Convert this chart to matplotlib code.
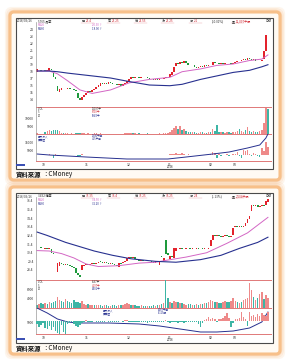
import numpy as np
import matplotlib
matplotlib.use('Agg')
import matplotlib.pyplot as plt
from matplotlib.patches import FancyBboxPatch, Rectangle

plt.rcParams['font.family'] = ['Noto Sans CJK TC', 'DejaVu Sans']

# ---------------- data: upper chart ----------------
top_open = [
    17.9, 18.2, 18.1, 18.0, 18.05, 18.0, 18.0, 18.3, 17.7, 17.2,
    15.9, 15.0, 15.3, 15.5, 15.4, 15.5, 15.6, 15.4, 15.5, 15.3,
    14.9, 14.2, 13.8, 14.3, 14.6, 14.8, 15.1, 15.0, 15.3, 15.5,
    15.7, 15.9, 16.3, 16.2, 16.3, 16.2, 16.4, 16.3, 16.2, 16.1,
    16.0, 16.1, 15.9, 16.1, 16.3, 16.6, 16.9, 17.1, 17.0, 17.1,
    17.2, 17.0, 17.1, 17.2, 17.1, 17.0, 16.9, 16.8, 16.7, 16.8,
    16.7, 16.8, 16.9, 17.0, 17.1, 17.2, 17.5, 17.9, 18.7, 19.2,
    19.0, 19.3, 19.2, 19.4, 19.1, 18.9, 18.8, 18.9, 18.6, 18.5,
    18.6, 18.7, 18.6, 18.8, 18.7, 18.9, 18.8, 19.3, 19.2, 19.1,
    19.0, 19.1, 19.0, 19.1, 19.2, 19.1, 19.0, 19.2, 19.3, 19.5,
    19.4, 19.6, 19.7, 19.6, 19.8, 19.7, 19.6, 19.7, 19.5, 19.4,
    19.4, 19.7, 20.9, 24.2]
top_close = [
    18.3, 18.1, 18.0, 18.05, 18.0, 18.2, 18.4, 18.1, 17.1, 16.8,
    15.1, 15.4, 15.6, 15.4, 15.5, 15.6, 15.4, 15.5, 15.3, 15.2,
    14.2, 13.8, 14.3, 14.6, 14.8, 15.1, 15.0, 15.3, 15.5, 15.7,
    16.0, 16.3, 16.2, 16.3, 16.2, 16.4, 16.3, 16.2, 16.1, 16.0,
    16.1, 15.9, 16.1, 16.3, 16.6, 16.9, 17.1, 17.0, 17.1, 17.2,
    17.0, 17.1, 17.2, 17.1, 17.0, 16.9, 16.8, 16.7, 16.8, 16.7,
    16.8, 16.9, 17.0, 17.1, 17.2, 17.6, 17.9, 18.6, 19.2, 19.0,
    19.3, 19.2, 19.4, 19.1, 18.9, 18.8, 18.9, 18.6, 18.5, 18.6,
    18.7, 18.6, 18.8, 18.7, 18.9, 18.8, 19.3, 19.2, 19.1, 19.0,
    19.1, 19.0, 19.1, 19.2, 19.1, 19.0, 19.2, 19.3, 19.5, 19.4,
    19.6, 19.7, 19.6, 19.8, 19.7, 19.6, 19.7, 19.5, 19.4, 19.4,
    19.6, 20.8, 23.2, 24.1]
top_vol = [
    400, 300, 300, 250, 1500, 1800, 2200, 1600, 2200, 2500,
    2600, 1800, 800, 500, 600, 400, 300, 350, 300, 400,
    700, 900, 600, 500, 300, 350, 250, 300, 400, 350,
    300, 400, 250, 300, 200, 300, 250, 200, 300, 250,
    300, 250, 300, 350, 400, 600, 500, 400, 350, 300,
    350, 300, 250, 300, 350, 300, 250, 300, 250, 300,
    350, 300, 400, 350, 500, 1500, 2500, 3500, 5000, 3000,
    4700, 2500, 3000, 2000, 1500, 1200, 1000, 1500, 800, 900,
    1000, 1100, 900, 800, 1000, 1200, 3000, 2000, 5500, 1500,
    1200, 1000, 900, 1100, 1000, 800, 1200, 1500, 2000, 3100,
    1800, 1500, 2200, 4400, 1800, 1500, 1600, 1200, 1400, 2000,
    2500, 6800, 16300, 15800]
top_inst = [
    300, -200, 200, -300, 400, -500, 800, -400, -4000, 1500,
    -800, 500, 300, -300, 200, -200, 300, -400, 200, -300,
    -1500, -1000, 800, 600, -300, 200, -200, 300, -250, 200,
    -300, 250, -200, 300, -200, 250, -300, 200, -250, 300,
    -200, 250, -300, 200, 300, 400, -250, 300, -200, 250,
    -300, 200, -250, 300, -200, 250, -300, 200, -250, 300,
    -200, 250, 300, -200, 400, 800, 1200, 1500, 2000, 1000,
    800, 2500, 1200, -600, 800, -500, 600, -400, 500, 300,
    -500, 400, 600, -300, 500, 700, 3700, 3000, -3700, 1000,
    -800, 600, -500, 900, -700, 500, 800, 1200, 3700, -1000,
    -3700, 6000, 5000, 6000, 1500, -1000, 2000, 1000, -800, -3000,
    8700, 5000, 16000, 10000]
top_ma_idx = [0, 6, 10, 15, 21, 27, 36, 45, 55, 65, 71, 80, 88, 96, 104, 110, 113]
top_ma20 = [18.0, 18.0, 17.6, 16.6, 15.3, 14.8, 15.3, 16.3, 16.8, 17.1,
            17.9, 18.3, 18.8, 19.0, 19.5, 19.7, 20.3]
top_ma60 = [18.0, 18.0, 17.9, 17.7, 17.5, 17.3, 17.0, 16.5, 16.0, 15.9,
            16.1, 16.8, 17.3, 17.8, 18.1, 18.6, 18.9]
top_cum_idx = [0, 6, 24, 44, 64, 73, 86, 94, 103, 109, 112, 113]
top_cum = [1250, 0, -2500, -5000, -5000, -2500, 1250, 3750, 8750, 12500, 21250, 26250]

# ---------------- data: lower chart ----------------
bot_open = [
    31.0, 30.9, 30.95, 30.9, 30.85, 30.9, 30.8, 30.8, 30.4, 30.3,
    28.2, 28.9, 29.2, 29.1, 29.0, 29.1, 29.0, 28.9, 28.8, 28.6,
    28.1, 27.8, 28.4, 28.9, 29.0, 29.1, 29.0, 29.1, 29.2, 29.1,
    29.2, 29.4, 29.3, 29.2, 29.3, 29.2, 29.1, 29.2, 29.1, 29.0,
    28.8, 29.2, 29.2, 29.3, 29.4, 29.8, 29.9, 29.8, 29.9, 29.7,
    29.6, 29.4, 29.6, 29.5, 29.4, 29.5, 29.4, 29.3, 29.2, 29.4,
    29.0, 30.0, 29.4, 31.9, 30.4, 29.7, 30.0, 29.8, 30.6, 30.9,
    30.85, 30.9, 30.8, 30.85, 30.9, 30.85, 30.8, 30.9, 30.85, 30.9,
    30.8, 30.85, 30.8, 30.9, 30.85, 31.2, 31.9, 32.5, 32.3, 32.4,
    32.3, 32.2, 32.3, 32.4, 32.3, 32.2, 32.5, 33.4, 33.5, 33.4,
    33.5, 33.4, 33.5, 33.85, 34.3, 35.2, 35.9, 35.8, 35.9, 35.7,
    35.8, 35.9, 35.9, 36.3]
bot_close = [
    30.9, 30.95, 30.9, 30.85, 30.9, 30.8, 30.9, 30.4, 30.3, 30.2,
    29.2, 29.3, 29.1, 29.0, 29.1, 29.0, 28.9, 28.75, 28.6, 28.1,
    27.8, 27.6, 29.0, 29.0, 29.1, 29.0, 29.1, 29.2, 29.1, 29.2,
    29.3, 29.3, 29.2, 29.3, 29.2, 29.1, 29.2, 29.1, 29.0, 28.9,
    29.2, 29.1, 29.3, 29.4, 29.8, 29.9, 29.8, 29.9, 29.7, 29.6,
    29.5, 29.6, 29.5, 29.4, 29.5, 29.4, 29.3, 29.2, 29.4, 29.3,
    29.4, 29.9, 29.8, 30.3, 30.1, 30.0, 29.9, 30.9, 30.95, 30.85,
    30.9, 30.8, 30.85, 30.9, 30.85, 30.8, 30.9, 30.85, 30.9, 30.8,
    30.85, 30.8, 30.9, 30.85, 30.9, 31.9, 32.5, 32.3, 32.4, 32.3,
    32.2, 32.3, 32.4, 32.3, 32.2, 32.3, 33.3, 33.5, 33.4, 33.5,
    33.4, 33.5, 33.85, 34.3, 34.7, 35.9, 35.8, 35.9, 35.7, 35.8,
    35.9, 35.8, 36.4, 36.6]
bot_vol = [
    1500, 1800, 2000, 1600, 2200, 1800, 2500, 2000, 2800, 3000,
    4900, 3500, 3000, 2500, 3800, 3000, 2600, 2200, 3500, 2800,
    2500, 2000, 3000, 1800, 1500, 1600, 1400, 1200, 1500, 1300,
    1200, 1400, 1100, 1300, 1200, 1000, 1100, 1300, 1200, 1000,
    1500, 1200, 1400, 1800, 2200, 1600, 1400, 1300, 1200, 1100,
    1000, 1200, 1100, 1000, 900, 1000, 1100, 1200, 1000, 1300,
    1500, 1800, 2000, 12300, 4500, 2500, 2000, 3000, 2800, 2500,
    2200, 2000, 1800, 1500, 1700, 1600, 1500, 1400, 1600, 1500,
    1600, 1800, 2000, 2200, 2500, 3500, 3000, 2500, 2800, 2200,
    2000, 2500, 3000, 2800, 2600, 3200, 4500, 3000, 2500, 2200,
    2800, 3500, 4000, 4500, 11000, 8000, 4900, 3500, 4500, 6000,
    7100, 4200, 5800, 4500]
bot_inst = [
    -1500, -3000, -2000, -1000, -3500, -4000, -2500, -4500, -3000, -5000,
    -6000, -6500, -2000, -5500, -6500, -1500, -1000, -500, -1500, -2500,
    -3000, -2000, -800, -500, 300, -400, -600, -300, 200, -500,
    -400, -300, -600, -500, -200, -400, -300, -500, -600, -400,
    -300, -200, -400, 300, 500, -300, -400, -300, -500, -600,
    -400, -500, -700, -600, -800, -500, -600, -700, -500, -400,
    -300, -500, -400, 500, -600, -800, -500, -700, -600, -900,
    -700, -600, -800, -700, -500, -600, -400, -300, -500, -1500,
    -3000, -1000, 500, 800, 2000, 1000, 1500, 1200, -500, 800,
    1000, 1500, 2500, 4000, 1500, -3000, -1000, 800, 1200, 1500,
    4500, 2000, 1000, -2500, 4500, 2500, 3000, 2000, 3500, 2500,
    4000, 3000, 2500, 4500]
bot_ma20_idx = [0, 6, 12, 18, 24, 30, 40, 50, 58, 64, 73, 83, 93, 103, 113]
bot_ma20 = [30.65, 30.6, 30.3, 29.8, 29.1, 28.8, 28.9, 29.2, 29.3, 29.55,
            29.9, 30.4, 31.5, 32.7, 34.5]
bot_ma60_idx = [0, 5, 14, 21, 28, 37, 46, 58, 68, 80, 90, 99, 108, 113]
bot_ma60 = [32.8, 32.4, 31.6, 31.1, 30.6, 30.1, 29.7, 29.4, 29.3, 29.6,
            30.1, 30.9, 31.6, 32.2]
bot_cum_idx = [0, 5, 10, 15, 20, 35, 50, 60, 70, 80, 88, 96, 104, 110, 113]
bot_cum = [19000, 14000, 8000, 5000, 4000, 4000, 3000, 1000, -2000, -5000,
           -5000, -4000, -1000, 5000, 15000]

month_pos = [3, 24, 45, 65, 85, 97]
month_lab = ['10', '11', '12', '01', '02', '03']

top_head = [('2018/03/26', 17), ('5765 晶豪', 38), ('開', 82, '23.4'), ('高', 108, '23.25'),
            ('低', 135, '21.55'), ('收', 162, '23.25'), ('漲', 190, '2.1'),
            ('(10.01%)', 212), ('量', 232, '12,097千股'), ('日線', 265)]
bot_head = [('2018/03/26', 17), ('3432 精華', 38), ('開', 82, '35.35'), ('高', 108, '36.4'),
            ('低', 135, '35.25'), ('收', 162, '36.25'), ('漲', 190, '2.4'),
            ('(1.13%)', 212), ('量', 232, '2,504千股'), ('日線', 265)]

RED = '#e3222c'
GRN = '#1e9a3c'
PINK = '#d366c4'
NAVY = '#27308f'
VRED = '#ee8a8a'
VGRN = '#3db5a5'
SEP = '#e07878'

W, H = 289, 360
fig = plt.figure(figsize=(W / 100, H / 100), dpi=100)
bg = fig.add_axes([0, 0, 1, 1])
bg.set_xlim(0, W)
bg.set_ylim(H, 0)
bg.axis('off')


def orange_box(y0, y1):
    x0, x1 = 10, 280
    for pad, a in [(4, 0.12), (2.5, 0.22), (1.2, 0.35)]:
        bg.add_patch(FancyBboxPatch((x0 - pad, y0 - pad), x1 - x0 + 2 * pad, y1 - y0 + 2 * pad,
                                    boxstyle='round,pad=0,rounding_size=6', fc='none',
                                    ec='#f6ad6a', lw=1.6, alpha=a))
    bg.add_patch(FancyBboxPatch((x0, y0), x1 - x0, y1 - y0,
                                boxstyle='round,pad=0,rounding_size=4', fc='#fffaf3',
                                ec='#f7c08a', lw=2.2))


def tiny(ax_or_bg, x, y, s, color='#333333', size=2.2, **kw):
    bg.text(x, y, s, color=color, fontsize=size, va='center', ha='left', **kw)


def panel(y0, y1):
    ax = fig.add_axes([36 / W, 1 - y1 / H, 235 / W, (y1 - y0) / H])
    ax.set_facecolor('none')
    for s in ['top', 'right']:
        ax.spines[s].set_visible(False)
    ax.spines['left'].set_color('#9a9a9a')
    ax.spines['left'].set_linewidth(0.5)
    ax.spines['bottom'].set_color(SEP)
    ax.spines['bottom'].set_linewidth(0.7)
    ax.tick_params(length=0, pad=1.6, labelsize=2.4, colors='#333333')
    ax.set_xticks([])
    return ax


def draw_chart(fy0, fy1, py, vy, iy, o, c, vol, inst, p_lim, p_ticks, p_fmt,
               ma_i1, ma1, ma_i2, ma2, v_lim, v_ticks, i_lim, i_ticks,
               cum_i, cum, i_twin, head, vol_txt, inst_txt, inst_pos):
    o = np.array(o)
    c = np.array(c)
    n = len(o)
    x = np.arange(n)
    up = c >= o
    # frame
    bg.add_patch(Rectangle((16, fy0), 257, fy1 - fy0, fc='white', ec='#4a4a4a', lw=0.8))
    bg.add_patch(Rectangle((16, fy1 - 5.5), 9, 2, fc='#3c50b4', ec='none'))
    # header
    hy = fy0 + 3
    for item in head:
        if len(item) == 2:
            tiny(bg, item[1], hy, item[0], color='#333333', size=2.2)
        else:
            tiny(bg, item[1], hy, item[0], color='#333333', size=2.2)
            tiny(bg, item[1] + 3.5, hy, item[2], color='#d02b35', size=2.2)
            bg.plot([item[1] - 1, item[1] + 12], [hy + 2, hy + 2], color='#e8a0a8', lw=0.3)

    # price
    ax = panel(*py)
    ax.set_xlim(-0.5, n + 0.5)
    ax.set_ylim(*p_lim)
    body = np.where(np.abs(c - o) < 0.06, 0.06, c - o)
    ax.bar(x, body, bottom=o, width=0.8, color=np.where(up, RED, GRN), lw=0)
    ax.plot(ma_i1, ma1, color=PINK, lw=0.7)
    ax.plot(ma_i2, ma2, color=NAVY, lw=0.8)
    ax.set_yticks(p_ticks)
    ax.set_yticklabels([p_fmt % t for t in p_ticks])
    ax.text(0.5, p_lim[1] - (p_lim[1] - p_lim[0]) * 0.04, 'MA20', color=PINK, fontsize=2.0, va='center')
    ax.text(0.5, p_lim[1] - (p_lim[1] - p_lim[0]) * 0.08, 'MA60', color=NAVY, fontsize=2.0, va='center')
    ax.text(27, p_lim[1] - (p_lim[1] - p_lim[0]) * 0.04, '%.2f ↑' % ma1[-1], color=PINK, fontsize=2.0, va='center')
    ax.text(27, p_lim[1] - (p_lim[1] - p_lim[0]) * 0.08, '%.2f ↑' % ma2[-1], color=NAVY, fontsize=2.0, va='center')

    # volume
    av = panel(*vy)
    av.set_xlim(-0.5, n + 0.5)
    av.set_ylim(*v_lim)
    av.bar(x, vol, width=0.7, color=np.where(up, VRED, VGRN), lw=0)
    av.set_yticks(v_ticks)
    av.set_yticklabels([str(t) for t in v_ticks])
    for k, (t, col) in enumerate(zip(['VOL', '5', '20'], ['#333333', '#333333', '#333333'])):
        av.text(0.5, v_lim[1] * (0.92 - 0.12 * k), t, color=col, fontsize=1.9, va='center')
    for k, (t, col) in enumerate(zip(vol_txt, ['#333333', '#d02b35', NAVY])):
        av.text(27, v_lim[1] * (0.92 - 0.12 * k), t, color=col, fontsize=1.9, va='center')

    # institutional
    ai = panel(*iy)
    ai.set_xlim(-0.5, n + 0.5)
    inst = np.array(inst)
    if i_twin is None:
        ai.set_ylim(*i_lim)
        ab = ai
    else:
        ai.set_ylim(*i_lim)
        ab = ai.twinx()
        ab.set_ylim(*i_twin)
        ab.axis('off')
    ab.bar(x, inst, width=0.7, color=np.where(inst >= 0, VRED, VGRN), lw=0)
    ai.plot(cum_i, cum, color=NAVY, lw=0.7)
    ai.set_yticks(i_ticks)
    ai.set_yticklabels([str(t) for t in i_ticks])
    ai.set_xticks(month_pos)
    ai.set_xticklabels(month_lab, fontsize=2.5)
    ai.tick_params(axis='x', pad=1.2)
    span = i_lim[1] - i_lim[0]
    for k, t in enumerate(inst_txt[0]):
        ai.text(inst_pos[0], i_lim[1] - span * (0.08 + 0.11 * k), t, color=NAVY, fontsize=1.9, va='center')
    for k, t in enumerate(inst_txt[1]):
        ai.text(inst_pos[1], i_lim[1] - span * (0.08 + 0.11 * k), t, color=NAVY, fontsize=1.9, va='center')
    bg.text(36 + (65 + 0.5) * 235 / (n + 1), iy[1] + 6.2, '2018', fontsize=2.2, color='#333333',
            ha='center', va='center')

    # caption
    bg.text(16, fy1 + 5, '資料來源', fontsize=4.6, weight='bold', color='#111111', va='center')
    bg.text(42, fy1 + 5, '：CMoney', fontsize=4.6, color='#111111', va='center')


orange_box(12, 180)
orange_box(187, 354)

draw_chart(18, 169, (22, 107), (107, 134), (134, 161),
           top_open, top_close, top_vol, top_inst,
           (12.86, 25.0), list(range(14, 25)), '%d',
           top_ma_idx, top_ma20, top_ma_idx, top_ma60,
           (0, 16900), [5000, 10000], (-7500, 26250), [5000, 15000],
           top_cum_idx, top_cum, None, top_head,
           ['12097千', '8709千', '6943千'],
           (['三大法人', '買賣超'], ['2946千股', '425千股']), (0.5, 27))

draw_chart(193, 343, (197, 280), (280, 308), (308, 334),
           bot_open, bot_close, bot_vol, bot_inst,
           (27.24, 36.86), [28.4 + k for k in range(9)], '%.1f',
           bot_ma20_idx, bot_ma20, bot_ma60_idx, bot_ma60,
           (0, 12444), [4000, 8000], (-7000, 19000), [5000],
           bot_cum_idx, bot_cum, (-6500, 6500), bot_head,
           ['1567千', '4297千', '3402千'],
           (['三大法人', '買賣超'], ['1469千股', '-1115張']), (32, 59))

fig.savefig('out.png', dpi=100)
